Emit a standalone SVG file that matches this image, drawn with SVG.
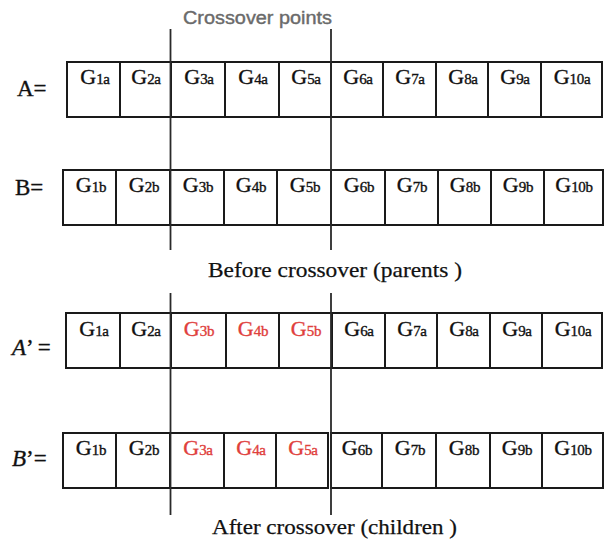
<svg xmlns="http://www.w3.org/2000/svg" width="604" height="541" viewBox="0 0 604 541">
  <style>
    .cell rect { fill: #ffffff; stroke: #1a1a1a; stroke-width: 2; }
    .gene { font-family: "Liberation Serif", "Times New Roman", serif; font-size: 22px; fill: #111111; stroke: #111111; stroke-width: 0.35; text-anchor: middle; }
    .gene tspan.sub { font-size: 15px; letter-spacing: -0.3px; }
    .swap { fill: #e0403c; stroke: #e0403c; }
    .label { font-family: "Liberation Serif", "Times New Roman", serif; font-size: 23px; fill: #111111; stroke: #111111; stroke-width: 0.35; }
    .caption { font-family: "Liberation Serif", "Times New Roman", serif; font-size: 22px; fill: #111111; stroke: #111111; stroke-width: 0.25; }
    .title { font-family: "Liberation Sans", Arial, sans-serif; font-size: 18px; fill: #6a6a6a; stroke: #6a6a6a; stroke-width: 0.4; }
    .cut { stroke: #2a2a2a; stroke-width: 1.8; fill: none; }
  </style>

  <!-- Heading -->
  <text class="title" x="183" y="24" textLength="149" lengthAdjust="spacingAndGlyphs">Crossover points</text>

  <!-- Row labels -->
  <text class="label" x="17" y="96">A=</text>
  <text class="label" x="15" y="195">B=</text>
  <text class="label" x="12" y="355"><tspan font-style="italic">A</tspan>’ =</text>
  <text class="label" x="12" y="466"><tspan font-style="italic">B</tspan>’=</text>

  <!-- Parent A -->
  <g id="rowA">
    <g id="A1" class="cell"><rect x="67" y="62" width="53" height="55"/><text class="gene" x="95" y="84">G<tspan class="sub">1a</tspan></text></g>
    <g id="A2" class="cell"><rect x="120" y="62" width="51" height="55"/><text class="gene" x="146" y="84">G<tspan class="sub">2a</tspan></text></g>
    <g id="A3" class="cell"><rect x="171" y="62" width="54" height="55"/><text class="gene" x="199" y="84">G<tspan class="sub">3a</tspan></text></g>
    <g id="A4" class="cell"><rect x="225" y="62" width="54" height="55"/><text class="gene" x="253" y="84">G<tspan class="sub">4a</tspan></text></g>
    <g id="A5" class="cell"><rect x="279" y="62" width="52" height="55"/><text class="gene" x="306" y="84">G<tspan class="sub">5a</tspan></text></g>
    <g id="A6" class="cell"><rect x="331" y="62" width="52" height="55"/><text class="gene" x="358" y="84">G<tspan class="sub">6a</tspan></text></g>
    <g id="A7" class="cell"><rect x="383" y="62" width="53" height="55"/><text class="gene" x="410" y="84">G<tspan class="sub">7a</tspan></text></g>
    <g id="A8" class="cell"><rect x="436" y="62" width="52" height="55"/><text class="gene" x="463" y="84">G<tspan class="sub">8a</tspan></text></g>
    <g id="A9" class="cell"><rect x="488" y="62" width="53" height="55"/><text class="gene" x="515" y="84">G<tspan class="sub">9a</tspan></text></g>
    <g id="A10" class="cell"><rect x="541" y="62" width="61" height="55"/><text class="gene" x="572" y="84">G<tspan class="sub">10a</tspan></text></g>
  </g>

  <!-- Parent B -->
  <g id="rowB">
    <g id="B1" class="cell"><rect x="63" y="170" width="53" height="55"/><text class="gene" x="91" y="192">G<tspan class="sub">1b</tspan></text></g>
    <g id="B2" class="cell"><rect x="116" y="170" width="54" height="55"/><text class="gene" x="144" y="192">G<tspan class="sub">2b</tspan></text></g>
    <g id="B3" class="cell"><rect x="170" y="170" width="54" height="55"/><text class="gene" x="198" y="192">G<tspan class="sub">3b</tspan></text></g>
    <g id="B4" class="cell"><rect x="224" y="170" width="53" height="55"/><text class="gene" x="251" y="192">G<tspan class="sub">4b</tspan></text></g>
    <g id="B5" class="cell"><rect x="277" y="170" width="54" height="55"/><text class="gene" x="305" y="192">G<tspan class="sub">5b</tspan></text></g>
    <g id="B6" class="cell"><rect x="331" y="170" width="54" height="55"/><text class="gene" x="359" y="192">G<tspan class="sub">6b</tspan></text></g>
    <g id="B7" class="cell"><rect x="385" y="170" width="53" height="55"/><text class="gene" x="412" y="192">G<tspan class="sub">7b</tspan></text></g>
    <g id="B8" class="cell"><rect x="438" y="170" width="53" height="55"/><text class="gene" x="465" y="192">G<tspan class="sub">8b</tspan></text></g>
    <g id="B9" class="cell"><rect x="491" y="170" width="53" height="55"/><text class="gene" x="518" y="192">G<tspan class="sub">9b</tspan></text></g>
    <g id="B10" class="cell"><rect x="544" y="170" width="59" height="55"/><text class="gene" x="574" y="192">G<tspan class="sub">10b</tspan></text></g>
  </g>

  <text class="caption" x="208" y="277" textLength="254" lengthAdjust="spacingAndGlyphs">Before crossover (parents )</text>

  <!-- Child A' -->
  <g id="rowA2">
    <g id="A2_1" class="cell"><rect x="66" y="313" width="54" height="55"/><text class="gene" x="94" y="336">G<tspan class="sub">1a</tspan></text></g>
    <g id="A2_2" class="cell"><rect x="120" y="313" width="51" height="55"/><text class="gene" x="146" y="336">G<tspan class="sub">2a</tspan></text></g>
    <g id="A2_3" class="cell"><rect x="171" y="313" width="55" height="55"/><text class="gene swap" x="199" y="336">G<tspan class="sub">3b</tspan></text></g>
    <g id="A2_4" class="cell"><rect x="226" y="313" width="53" height="55"/><text class="gene swap" x="253" y="336">G<tspan class="sub">4b</tspan></text></g>
    <g id="A2_5" class="cell"><rect x="279" y="313" width="53" height="55"/><text class="gene swap" x="306" y="336">G<tspan class="sub">5b</tspan></text></g>
    <g id="A2_6" class="cell"><rect x="332" y="313" width="53" height="55"/><text class="gene" x="359" y="336">G<tspan class="sub">6a</tspan></text></g>
    <g id="A2_7" class="cell"><rect x="385" y="313" width="52" height="55"/><text class="gene" x="412" y="336">G<tspan class="sub">7a</tspan></text></g>
    <g id="A2_8" class="cell"><rect x="437" y="313" width="53" height="55"/><text class="gene" x="464" y="336">G<tspan class="sub">8a</tspan></text></g>
    <g id="A2_9" class="cell"><rect x="490" y="313" width="52" height="55"/><text class="gene" x="517" y="336">G<tspan class="sub">9a</tspan></text></g>
    <g id="A2_10" class="cell"><rect x="542" y="313" width="60" height="55"/><text class="gene" x="573" y="336">G<tspan class="sub">10a</tspan></text></g>
  </g>

  <!-- Child B' -->
  <g id="rowB2">
    <g id="B2_1" class="cell"><rect x="63" y="433" width="53" height="55"/><text class="gene" x="91" y="455">G<tspan class="sub">1b</tspan></text></g>
    <g id="B2_2" class="cell"><rect x="116" y="433" width="54" height="55"/><text class="gene" x="144" y="455">G<tspan class="sub">2b</tspan></text></g>
    <g id="B2_3" class="cell"><rect x="170" y="433" width="54" height="55"/><text class="gene swap" x="198" y="455">G<tspan class="sub">3a</tspan></text></g>
    <g id="B2_4" class="cell"><rect x="224" y="433" width="52" height="55"/><text class="gene swap" x="251" y="455">G<tspan class="sub">4a</tspan></text></g>
    <g id="B2_5" class="cell"><rect x="276" y="433" width="52" height="55"/><text class="gene swap" x="303" y="455">G<tspan class="sub">5a</tspan></text></g>
    <g id="B2_6" class="cell"><rect x="331" y="433" width="51" height="55"/><text class="gene" x="357" y="455">G<tspan class="sub">6b</tspan></text></g>
    <g id="B2_7" class="cell"><rect x="382" y="433" width="54" height="55"/><text class="gene" x="410" y="455">G<tspan class="sub">7b</tspan></text></g>
    <g id="B2_8" class="cell"><rect x="436" y="433" width="54" height="55"/><text class="gene" x="464" y="455">G<tspan class="sub">8b</tspan></text></g>
    <g id="B2_9" class="cell"><rect x="490" y="433" width="52" height="55"/><text class="gene" x="517" y="455">G<tspan class="sub">9b</tspan></text></g>
    <g id="B2_10" class="cell"><rect x="542" y="433" width="61" height="55"/><text class="gene" x="573" y="455">G<tspan class="sub">10b</tspan></text></g>
  </g>

  <text class="caption" x="212" y="534" textLength="245" lengthAdjust="spacingAndGlyphs">After crossover (children )</text>

  <!-- Crossover cut lines -->
  <g id="cuts">
    <line class="cut" x1="170.5" y1="29" x2="170.5" y2="250"/>
    <line class="cut" x1="331" y1="29" x2="331" y2="250"/>
    <line class="cut" x1="170.5" y1="293" x2="170.5" y2="515"/>
    <line class="cut" x1="331" y1="293" x2="331" y2="515"/>
  </g>
</svg>
